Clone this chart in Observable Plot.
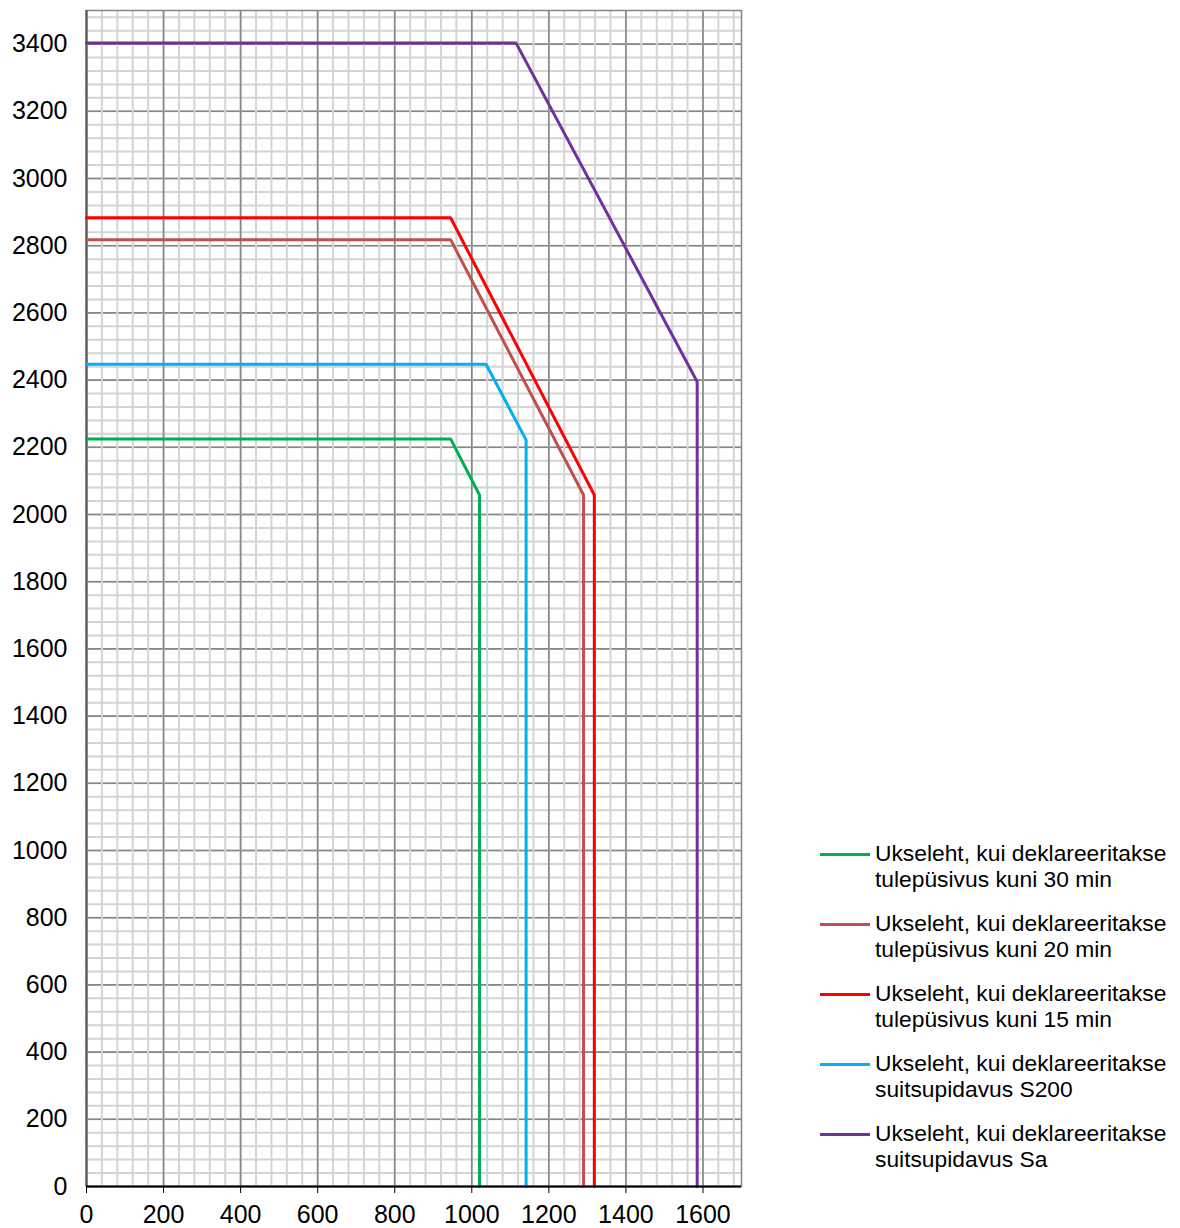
<!DOCTYPE html>
<html>
<head>
<meta charset="utf-8">
<script src="https://cdn.jsdelivr.net/npm/d3@7"></script>
<script src="https://cdn.jsdelivr.net/npm/@observablehq/plot@0.6"></script>
<style>
  html, body { margin: 0; padding: 0; background: #fff; }
  #wrap { position: relative; width: 1180px; height: 1228px; font-family: "Liberation Sans", Arial, sans-serif; }
  #chart { position: absolute; left: 0; top: 0; }
  #legend { position: absolute; left: 820px; top: 840px; font-size: 22.8px; color: #000; }
  .item { display: flex; align-items: flex-start; height: 70px; }
  .sw { width: 50px; height: 3px; margin-top: 13px; margin-right: 5px; flex: none; }
  .txt { line-height: 26px; white-space: nowrap; }
</style>
</head>
<body>
<div id="wrap"><div id="chart"></div><div id="legend"></div></div>
<script>
// Series (x = width mm, y = height mm)
const seriesNames = [
  "Ukseleht, kui deklareeritakse\ntulepüsivus kuni 30 min",
  "Ukseleht, kui deklareeritakse\ntulepüsivus kuni 20 min",
  "Ukseleht, kui deklareeritakse\ntulepüsivus kuni 15 min",
  "Ukseleht, kui deklareeritakse\nsuitsupidavus S200",
  "Ukseleht, kui deklareeritakse\nsuitsupidavus Sa"
];
const seriesColors = ["#00b050", "#c0504d", "#ff0000", "#00b0f0", "#7030a0"];

const fire30X = [0, 945, 1020, 1020];
const fire30Y = [2225, 2225, 2058, 0];
const fire20X = [0, 945, 1290, 1290];
const fire20Y = [2818, 2818, 2058, 0];
const fire15X = [0, 945, 1318, 1318];
const fire15Y = [2883, 2883, 2058, 0];
const s200X = [0, 1037, 1141, 1141];
const s200Y = [2447, 2447, 2222, 0];
const saX = [0, 1115, 1585, 1585];
const saY = [3403, 3403, 2395, 0];

const xTicks = [0, 200, 400, 600, 800, 1000, 1200, 1400, 1600];
const yTicks = [0, 200, 400, 600, 800, 1000, 1200, 1400, 1600, 1800, 2000, 2200, 2400, 2600, 2800, 3000, 3200, 3400];
const xMinor = d3.range(0, 1701, 40);
const yMinor = d3.range(0, 3501, 40);

const allX = [fire30X, fire20X, fire15X, s200X, saX];
const allY = [fire30Y, fire20Y, fire15Y, s200Y, saY];
const rows = [];
allX.forEach((xs, i) => xs.forEach((x, j) => rows.push({s: i, x, y: allY[i][j]})));

const chart = Plot.plot({
  width: 745,
  height: 1228,
  marginLeft: 86,
  marginRight: 4,
  marginTop: 10,
  marginBottom: 42,
  style: {fontFamily: "'Liberation Sans', Arial, sans-serif", fontSize: "25px", color: "#000", background: "#fff"},
  x: {domain: [0, 1700], label: null},
  y: {domain: [0, 3500], label: null},
  marks: [
    Plot.gridY(yMinor, {stroke: "#d4d4d4", strokeOpacity: 1, strokeWidth: 2}),
    Plot.gridY(yTicks, {stroke: "#878787", strokeOpacity: 1, strokeWidth: 1.6}),
    Plot.gridX(xMinor, {stroke: "#d4d4d4", strokeOpacity: 1, strokeWidth: 2}),
    Plot.gridX(xTicks, {stroke: "#878787", strokeOpacity: 1, strokeWidth: 1.6}),
    Plot.frame({stroke: "#8a8a8a", strokeWidth: 1.6}),
    Plot.ruleX([0], {stroke: "#5a5a5a", strokeWidth: 2}),
    Plot.axisY(yTicks, {tickSize: 0, tickPadding: 19, fontSize: 25, tickFormat: d => String(d)}),
    Plot.axisX(xTicks, {tickSize: 7, tickPadding: 12, fontSize: 25, stroke: "#000", tickFormat: d => String(d)}),
    Plot.line(rows, {x: "x", y: "y", z: "s", stroke: d => seriesColors[d.s], strokeWidth: 3, strokeLinejoin: "miter"}),
    Plot.ruleY([0], {stroke: "#000", strokeWidth: 2})
  ]
});
document.getElementById("chart").appendChild(chart);

const legend = document.getElementById("legend");
seriesNames.forEach((name, i) => {
  const item = document.createElement("div");
  item.className = "item";
  const sw = document.createElement("div");
  sw.className = "sw";
  sw.style.background = seriesColors[i];
  const t = document.createElement("div");
  t.className = "txt";
  t.innerHTML = name.split("\n").join("<br>");
  item.appendChild(sw);
  item.appendChild(t);
  legend.appendChild(item);
});
</script>
</body>
</html>
